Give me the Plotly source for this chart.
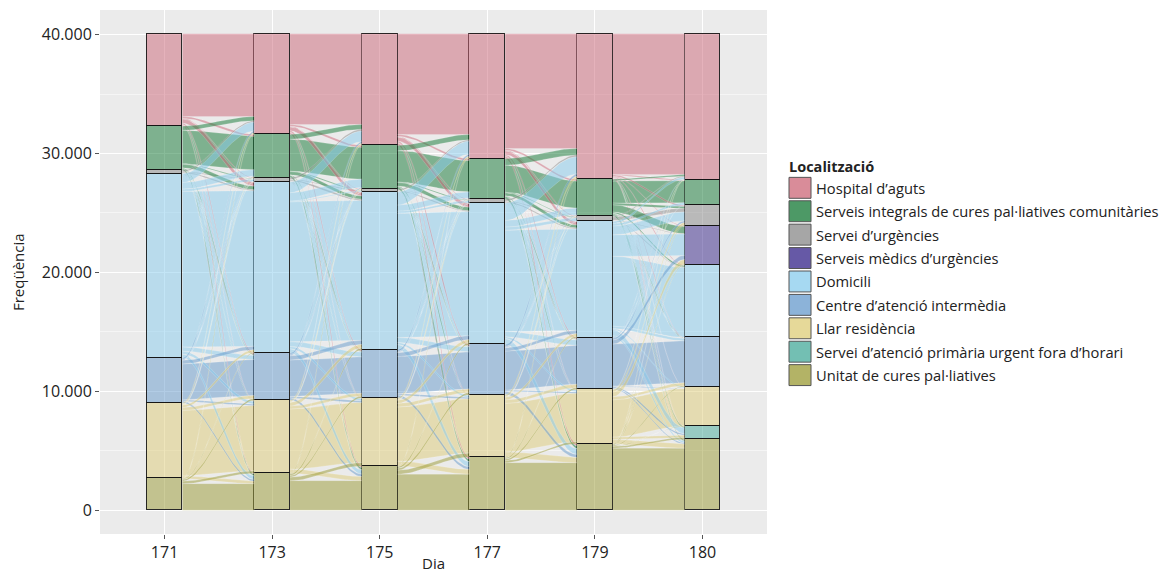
import numpy as np
import plotly.graph_objects as go

# ---------------- data ----------------
days = ["171", "173", "175", "177", "179", "180"]
codes = ["H", "G", "U", "S", "D", "C", "L", "T", "P"]
categories = [
    "Hospital d’aguts",
    "Serveis integrals de cures pal·liatives comunitàries",
    "Servei d’urgències",
    "Serveis mèdics d’urgències",
    "Domicili",
    "Centre d’atenció intermèdia",
    "Llar residència",
    "Servei d’atenció primària urgent fora d’horari",
    "Unitat de cures pal·liatives",
]

hospital = [7770, 8465, 9390, 10505, 12240, 12320]
sicpc = [3715, 3630, 3690, 3410, 3075, 2095]
urgencies = [280, 370, 225, 335, 470, 1735]
sem = [0, 0, 0, 0, 0, 3295]
domicili = [15480, 14385, 13265, 11880, 9760, 6095]
centre = [3800, 3975, 4050, 4215, 4360, 4135]
llar = [6345, 6145, 5735, 5255, 4575, 3355]
pac = [0, 0, 0, 0, 0, 1065]
ucp = [2680, 3100, 3715, 4470, 5590, 5975]

# changes of location between consecutive days (from, to, patients);
# patients who stay are the remainder of each stratum
flows_171_173 = [
    ("H", "G", 150), ("H", "U", 60), ("H", "D", 350), ("H", "C", 120), ("H", "L", 50), ("H", "P", 80),
    ("G", "H", 350), ("G", "U", 40), ("G", "D", 300), ("G", "C", 60), ("G", "L", 30), ("G", "P", 120),
    ("U", "H", 120), ("U", "D", 80), ("U", "C", 20), ("U", "P", 20),
    ("D", "H", 750), ("D", "G", 550), ("D", "U", 190), ("D", "C", 350), ("D", "L", 250), ("D", "P", 300),
    ("C", "H", 150), ("C", "G", 50), ("C", "U", 20), ("C", "D", 300), ("C", "L", 100), ("C", "P", 150),
    ("L", "H", 100), ("L", "G", 65), ("L", "U", 20), ("L", "D", 200), ("L", "C", 250), ("L", "P", 200),
    ("P", "H", 35), ("P", "D", 65), ("P", "C", 145), ("P", "L", 205),
]
flows_173_175 = [
    ("H", "G", 150), ("H", "U", 50), ("H", "D", 330), ("H", "C", 120), ("H", "L", 45), ("H", "P", 140),
    ("G", "H", 400), ("G", "U", 30), ("G", "D", 280), ("G", "C", 50), ("G", "L", 20), ("G", "P", 160),
    ("U", "H", 150), ("U", "D", 100), ("U", "C", 30), ("U", "P", 30),
    ("D", "H", 900), ("D", "G", 700), ("D", "U", 70), ("D", "C", 400), ("D", "L", 200), ("D", "P", 350),
    ("C", "H", 150), ("C", "G", 80), ("C", "U", 10), ("C", "D", 350), ("C", "L", 120), ("C", "P", 200),
    ("L", "H", 110), ("L", "G", 70), ("L", "U", 5), ("L", "D", 300), ("L", "C", 250), ("L", "P", 350),
    ("P", "H", 50), ("P", "D", 140), ("P", "C", 135), ("P", "L", 290),
]
flows_175_177 = [
    ("H", "G", 160), ("H", "U", 60), ("H", "D", 340), ("H", "C", 130), ("H", "L", 50), ("H", "P", 180),
    ("G", "H", 450), ("G", "U", 40), ("G", "D", 300), ("G", "C", 50), ("G", "L", 20), ("G", "P", 200),
    ("U", "H", 110), ("U", "D", 60), ("U", "C", 20), ("U", "P", 10),
    ("D", "H", 1100), ("D", "G", 520), ("D", "U", 180), ("D", "C", 420), ("D", "L", 180), ("D", "P", 420),
    ("C", "H", 170), ("C", "G", 60), ("C", "U", 20), ("C", "D", 330), ("C", "L", 110), ("C", "P", 230),
    ("L", "H", 150), ("L", "G", 40), ("L", "U", 10), ("L", "D", 270), ("L", "C", 300), ("L", "P", 400),
    ("P", "H", 55), ("P", "D", 135), ("P", "C", 165), ("P", "L", 330),
]
flows_177_179 = [
    ("H", "G", 150), ("H", "U", 70), ("H", "D", 300), ("H", "C", 120), ("H", "L", 40), ("H", "P", 180),
    ("G", "H", 550), ("G", "U", 50), ("G", "D", 250), ("G", "C", 50), ("G", "L", 20), ("G", "P", 220),
    ("U", "H", 150), ("U", "D", 90), ("U", "C", 30), ("U", "P", 15),
    ("D", "H", 1450), ("D", "G", 560), ("D", "U", 260), ("D", "C", 450), ("D", "L", 160), ("D", "P", 480),
    ("C", "H", 200), ("C", "G", 55), ("C", "U", 25), ("C", "D", 280), ("C", "L", 100), ("C", "P", 270),
    ("L", "H", 180), ("L", "G", 40), ("L", "U", 15), ("L", "D", 220), ("L", "C", 290), ("L", "P", 430),
    ("P", "H", 65), ("P", "D", 100), ("P", "C", 135), ("P", "L", 175),
]
flows_179_180 = [
    ("H", "G", 40), ("H", "U", 120), ("H", "S", 60), ("H", "D", 60), ("H", "C", 40), ("H", "L", 15), ("H", "T", 30), ("H", "P", 50),
    ("G", "H", 150), ("G", "U", 150), ("G", "S", 600), ("G", "D", 115), ("G", "C", 30), ("G", "T", 80), ("G", "P", 100),
    ("U", "H", 80), ("U", "S", 30), ("U", "D", 40), ("U", "C", 10), ("U", "P", 10),
    ("D", "H", 180), ("D", "G", 200), ("D", "U", 750), ("D", "S", 1800), ("D", "C", 200), ("D", "L", 100), ("D", "T", 500), ("D", "P", 150),
    ("C", "H", 50), ("C", "G", 5), ("C", "U", 150), ("C", "S", 350), ("C", "L", 50), ("C", "T", 120), ("C", "P", 100),
    ("L", "H", 30), ("L", "U", 200), ("L", "S", 400), ("L", "C", 250), ("L", "T", 200), ("L", "P", 350),
    ("P", "H", 5), ("P", "U", 65), ("P", "S", 55), ("P", "C", 70), ("P", "L", 45), ("P", "T", 135),
]

# ---------------- styling ----------------
base_rgb = {
    "H": (204, 102, 119), "G": (17, 119, 51), "U": (136, 136, 136),
    "S": (51, 34, 136), "D": (136, 204, 238), "C": (102, 153, 204),
    "L": (221, 204, 119), "T": (68, 170, 153), "P": (153, 153, 51),
}


def rgba(c, a):
    r, g, b = base_rgb[c]
    return f"rgba({r},{g},{b},{a})"


strata = dict(zip(codes, [hospital, sicpc, urgencies, sem, domicili, centre, llar, pac, ucp]))
gaps = [flows_171_173, flows_173_175, flows_175_177, flows_177_179, flows_179_180]
n_ax = len(days)
W = 1 / 3  # stratum width (ggalluvial default)

totals = [sum(strata[c][k] for c in codes) for k in range(n_ax)]
tops = []
for k in range(n_ax):
    t = {}
    cur = totals[k]
    for c in codes:
        t[c] = cur
        cur -= strata[c][k]
    tops.append(t)

fig = go.Figure()

tt = np.linspace(0, 1, 40)
s = 3 * tt ** 2 - 2 * tt ** 3

for k, moves in enumerate(gaps):
    out = {c: 0 for c in codes}
    for a, b, n in moves:
        out[a] += n
    full = list(moves) + [(c, c, strata[c][k] - out[c]) for c in codes if strata[c][k] - out[c] > 0]
    inn = {c: 0 for c in codes}
    for a, b, n in full:
        inn[b] += n
    scale = {c: (strata[c][k + 1] / inn[c] if inn[c] > 0 else 1) for c in codes}
    idx = {c: i for i, c in enumerate(codes)}
    left = {}
    for a in codes:
        cur = tops[k][a]
        for f in sorted([f for f in full if f[0] == a], key=lambda f: idx[f[1]]):
            left[(f[0], f[1])] = (cur, cur - f[2])
            cur -= f[2]
    right = {}
    for b in codes:
        cur = tops[k + 1][b]
        for f in sorted([f for f in full if f[1] == b], key=lambda f: idx[f[0]]):
            h = f[2] * scale[b]
            right[(f[0], f[1])] = (cur, cur - h)
            cur -= h
    xl = (k + 1) + W / 2
    xr = (k + 2) - W / 2
    xs = xl + (xr - xl) * tt
    order = [f for f in full if f[0] == f[1]] + [f for f in full if f[0] != f[1]]
    for a, b, n in order:
        lt, lb = left[(a, b)]
        rt, rb = right[(a, b)]
        ytop = lt + (rt - lt) * s
        ybot = lb + (rb - lb) * s
        fig.add_trace(go.Scatter(
            x=np.concatenate([xs, xs[::-1]]),
            y=np.concatenate([ytop, ybot[::-1]]),
            mode="lines", fill="toself",
            fillcolor=rgba(a, 0.5),
            line=dict(color="rgba(255,255,255,0.35)", width=0.5),
            hoverinfo="skip", showlegend=False,
        ))

# strata (stacked bars, first category on top)
xpos = list(range(1, n_ax + 1))
for c, name in reversed(list(zip(codes, categories))):
    fig.add_trace(go.Bar(
        x=xpos, y=[v if v > 0 else None for v in strata[c]],
        width=W, name=name,
        marker=dict(color=rgba(c, 0.5), line=dict(color="rgba(20,20,20,0.9)", width=1.2)),
        showlegend=False, hoverinfo="x+y+name",
    ))

# ---------------- layout ----------------
L_M, R_M, T_M, B_M = 100, 394, 10, 37
FW, FH = 1161, 573
PW, PH = FW - L_M - R_M, FH - T_M - B_M


def px(x):
    return (x - L_M) / PW


def py(y):
    return (FH - B_M - y) / PH


ymax = max(totals)
pad = 0.05 * ymax

fig.update_layout(
    width=FW, height=FH,
    margin=dict(l=L_M, r=R_M, t=T_M, b=B_M, pad=0),
    barmode="stack", bargap=0,
    paper_bgcolor="white", plot_bgcolor="#EBEBEB",
    separators=",.",
    font=dict(family="Open Sans, sans-serif", color="#333333"),
    showlegend=False,
)
fig.update_xaxes(
    range=[0.4, n_ax + 0.6], tickvals=xpos, ticktext=days,
    showgrid=True, gridcolor="white", gridwidth=1.3, zeroline=False,
    ticks="outside", ticklen=4, tickcolor="#555555", tickwidth=1,
    tickfont=dict(size=16, color="#222222"), showline=False,
)
fig.update_yaxes(
    range=[-pad, ymax + pad], tickvals=[0, 10000, 20000, 30000, 40000],
    tickformat=",d",
    showgrid=True, gridcolor="white", gridwidth=1.3, zeroline=False,
    minor=dict(tickvals=[5000, 15000, 25000, 35000], showgrid=True, gridcolor="#F5F5F5", gridwidth=0.7, ticks=""),
    ticks="outside", ticklen=4, tickcolor="#555555", tickwidth=1,
    tickfont=dict(size=16, color="#222222"), showline=False,
)

ann = []
shapes = []
ann.append(dict(text="Freqüència", x=px(18), y=py(273), xref="paper", yref="paper",
                textangle=-90, showarrow=False, font=dict(size=15, color="#222222"),
                xanchor="center", yanchor="middle"))
ann.append(dict(text="Dia", x=px(433), y=py(565), xref="paper", yref="paper",
                showarrow=False, font=dict(size=15, color="#222222"),
                xanchor="center", yanchor="middle"))
ann.append(dict(text="<b>Localització</b>", x=px(787), y=py(167), xref="paper", yref="paper",
                showarrow=False, font=dict(size=14.5, color="#222222"),
                xanchor="left", yanchor="middle"))
for i, (c, name) in enumerate(zip(codes, categories)):
    yc = 188.5 + 23.5 * i
    shapes.append(dict(type="rect", xref="paper", yref="paper",
                       x0=px(789), x1=px(811), y0=py(yc - 10.5), y1=py(yc + 10.5),
                       fillcolor=rgba(c, 0.75), line=dict(color="#555555", width=1)))
    ann.append(dict(text=name, x=px(814), y=py(yc), xref="paper", yref="paper",
                    showarrow=False, font=dict(size=14.7, color="#222222"),
                    xanchor="left", yanchor="middle"))
fig.update_layout(annotations=ann, shapes=shapes)

fig.write_html(
    "out.html",
    config={"displayModeBar": False},
    post_script="document.body.style.margin='0';document.body.style.overflow='hidden';",
)
